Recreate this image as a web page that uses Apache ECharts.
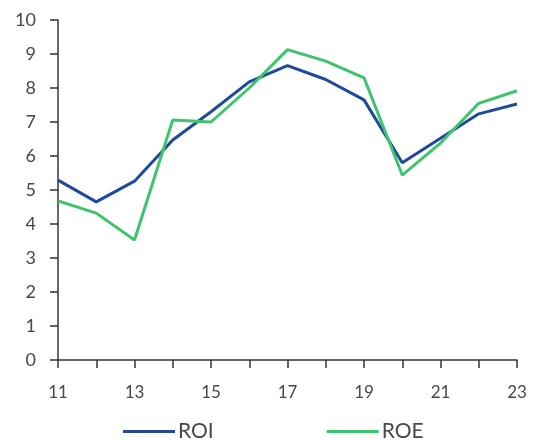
<!DOCTYPE html>
<html><head><meta charset="utf-8">
<script src="https://cdn.jsdelivr.net/npm/echarts@6/dist/echarts.min.js"></script>
<style>html,body{margin:0;padding:0;background:#fff}#c{width:537px;height:441px}</style>
</head><body><div id="c"></div>
<script>
const years = ['11','12','13','14','15','16','17','18','19','20','21','22','23'];
const roi = [5.29, 4.65, 5.26, 6.47, 7.3, 8.18, 8.66, 8.25, 7.65, 5.8, 6.52, 7.24, 7.53];
const roe = [4.68, 4.32, 3.53, 7.06, 7.0, 8.0, 9.13, 8.79, 8.3, 5.44, 6.38, 7.55, 7.92];
const yTicks = [0, 10, 1];

const chart = echarts.init(document.getElementById('c'), null, {renderer:'canvas'});
const txt = '#484848';
const font = 'Lato';
chart.setOption({
  animation:false,
  textStyle:{fontFamily:font},
  grid:{left:58,right:20,top:20,bottom:81,containLabel:false},
  legend:{
    left:118, top:416, itemWidth:52, itemHeight:3, itemGap:113,
    icon:'rect',
    textStyle:{fontSize:21,color:txt,fontFamily:font,lineHeight:21,padding:[0,0,0,-2]},
    data:['ROI','ROE']
  },
  xAxis:{
    type:'category', data:years, boundaryGap:false,
    axisLine:{lineStyle:{color:'#333',width:1.5}},
    axisTick:{show:true,length:8,interval:0,lineStyle:{color:'#333',width:1.5}},
    axisLabel:{interval:1,color:txt,fontSize:17,margin:24,fontFamily:font},
    splitLine:{show:false}
  },
  yAxis:{
    type:'value', min:yTicks[0], max:yTicks[1], interval:yTicks[2],
    axisLine:{show:true,lineStyle:{color:'#333',width:1.5}},
    axisTick:{show:true,length:8,lineStyle:{color:'#333',width:1.5}},
    axisLabel:{color:txt,fontSize:18,margin:22,fontFamily:font},
    splitLine:{show:false}
  },
  series:[
    {name:'ROI',type:'line',data:roi,symbol:'none',lineStyle:{color:'#1f4a9a',width:3},itemStyle:{color:'#1f4a9a'}},
    {name:'ROE',type:'line',data:roe,symbol:'none',lineStyle:{color:'#3fc46e',width:3},itemStyle:{color:'#3fc46e'}}
  ]
});
</script></body></html>
